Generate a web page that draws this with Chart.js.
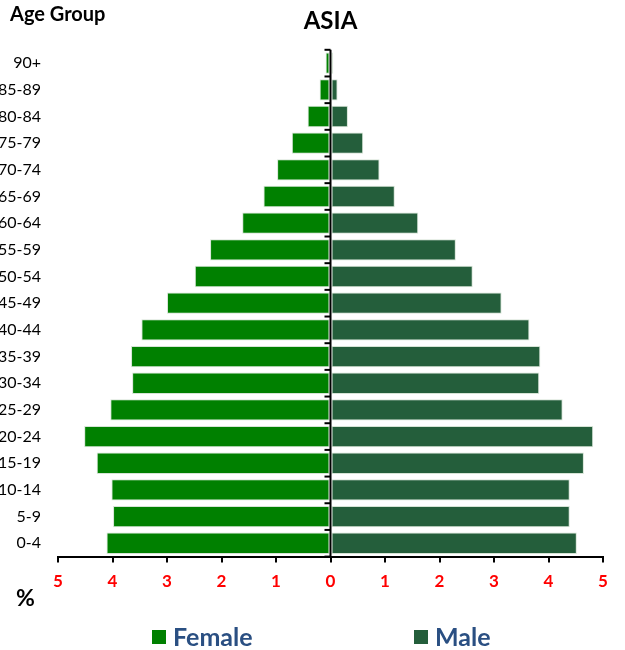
<!DOCTYPE html>
<html>
<head>
<meta charset="utf-8">
<script src="https://cdn.jsdelivr.net/npm/chart.js@4/dist/chart.umd.min.js"></script>
<style>
  html, body { margin: 0; padding: 0; background: #fff; }
  #wrap { position: relative; width: 625px; height: 650px; overflow: hidden; }
</style>
</head>
<body>
<div id="wrap"><canvas id="myChart" width="625" height="650"></canvas></div>
<script>
const ageGroups = ["90+", "85-89", "80-84", "75-79", "70-74", "65-69", "60-64", "55-59", "50-54",
  "45-49", "40-44", "35-39", "30-34", "25-29", "20-24", "15-19", "10-14", "5-9", "0-4"];
// percent of total population
const femaleShare = [0.09, 0.20, 0.42, 0.71, 0.98, 1.23, 1.62, 2.21, 2.49,
  3.00, 3.47, 3.66, 3.64, 4.04, 4.52, 4.29, 4.02, 3.99, 4.11];
const maleShare = [0.05, 0.13, 0.32, 0.60, 0.90, 1.18, 1.61, 2.30, 2.61,
  3.14, 3.65, 3.85, 3.83, 4.26, 4.82, 4.65, 4.39, 4.39, 4.52];
const seriesNames = ["Female", "Male"];
const seriesColors = ["#008000", "#245E3B"];

const FONT = "Lato, 'Open Sans', sans-serif";

// vertical axis at 0 with small ticks between age groups
const zeroAxis = {
  id: "zeroAxis",
  afterDatasetsDraw(chart) {
    const { ctx, chartArea, scales: { x, y } } = chart;
    const x0 = x.getPixelForValue(0);
    const n = ageGroups.length;
    ctx.save();
    ctx.strokeStyle = "#000";
    ctx.lineWidth = 2;
    ctx.beginPath();
    ctx.moveTo(x0, chartArea.top);
    ctx.lineTo(x0, chartArea.bottom);
    ctx.stroke();
    for (let i = 0; i <= n; i++) {
      let yb;
      if (i === 0) yb = chartArea.top;
      else if (i === n) yb = chartArea.bottom;
      else yb = (y.getPixelForValue(i - 1) + y.getPixelForValue(i)) / 2;
      ctx.beginPath();
      ctx.moveTo(x0 - 6, yb);
      ctx.lineTo(x0, yb);
      ctx.stroke();
    }
    ctx.restore();
  }
};

// "Age Group", "%" and the legend at the bottom
const extras = {
  id: "extras",
  afterDraw(chart) {
    const { ctx } = chart;
    ctx.save();
    ctx.fillStyle = "#000";
    ctx.textBaseline = "middle";
    ctx.textAlign = "left";
    ctx.font = "bold 20px " + FONT;
    ctx.fillText("Age Group", 10, 15);
    ctx.font = "bold 23px " + FONT;
    ctx.fillText("%", 16, 599);

    const legendX = [152, 414];
    seriesNames.forEach((name, i) => {
      ctx.fillStyle = seriesColors[i];
      ctx.fillRect(legendX[i], 630, 14, 14);
      ctx.fillStyle = "#2A4F82";
      ctx.font = "bold 25px " + FONT;
      ctx.fillText(name, legendX[i] + 21, 638);
    });
    ctx.restore();
  }
};

const chart = new Chart(document.getElementById("myChart"), {
  type: "bar",
  data: {
    labels: ageGroups,
    datasets: [
      { label: seriesNames[0], data: femaleShare.map(v => -v), backgroundColor: seriesColors[0],
        borderColor: "rgba(210,225,210,0.9)", borderWidth: 1, borderSkipped: false },
      { label: seriesNames[1], data: maleShare, backgroundColor: seriesColors[1],
        borderColor: "rgba(210,225,210,0.9)", borderWidth: 1, borderSkipped: false },
    ]
  },
  options: {
    indexAxis: "y",
    responsive: false,
    animation: false,
    devicePixelRatio: 1,
    categoryPercentage: 0.8,
    barPercentage: 1,
    layout: { padding: { left: 0, right: 22, top: 0, bottom: 49 } },
    plugins: {
      legend: { display: false },
      tooltip: { enabled: false },
      title: {
        display: true,
        text: "ASIA",
        fullSize: false,
        color: "#000",
        font: { family: FONT, size: 24, weight: "bold" },
        padding: { top: 7, bottom: 14 }
      }
    },
    scales: {
      x: {
        stacked: true,
        min: -5,
        max: 5,
        border: { display: true, color: "#000", width: 2 },
        grid: { drawOnChartArea: false, drawTicks: true, tickLength: 6, color: "#000", lineWidth: 2 },
        ticks: {
          stepSize: 1,
          padding: 9,
          color: "#FF0000",
          font: { family: FONT, size: 17, weight: "bold" },
          callback: v => Math.abs(v)
        }
      },
      y: {
        stacked: true,
        border: { display: false },
        grid: { display: false },
        ticks: {
          color: "#000",
          padding: 9,
          autoSkip: false,
          font: { family: FONT, size: 16 }
        },
        afterFit(scale) { scale.width = 58; }
      }
    }
  },
  plugins: [zeroAxis, extras]
});
</script>
</body>
</html>
